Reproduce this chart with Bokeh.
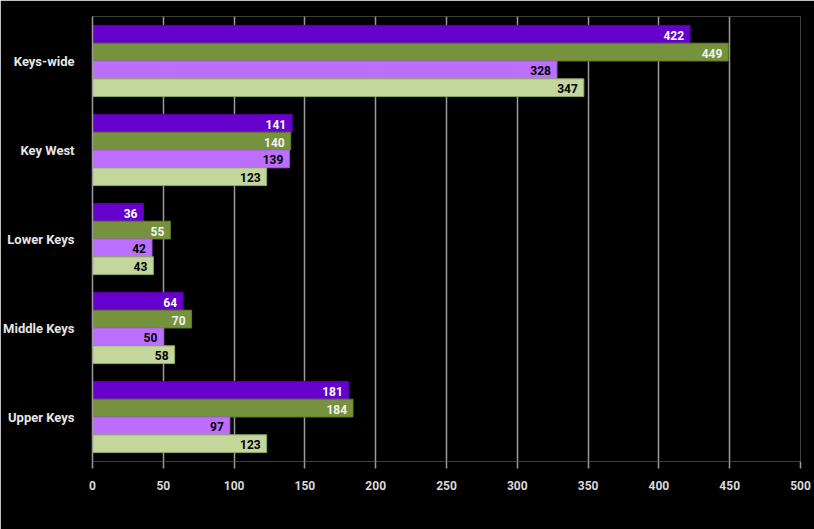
from bokeh.plotting import figure
from bokeh.models import ColumnDataSource, Legend, LegendItem, FixedTicker
from bokeh.transform import dodge
from bokeh.core.properties import value
from bokeh.embed import file_html
from bokeh.resources import INLINE

regions = ["Keys-wide", "Key West", "Lower Keys", "Middle Keys", "Upper Keys"]
series_names = ["2018 Listed", "2019 Listed", "2018 Sales", "2019 Sales"]
listed_2018 = [422, 141, 36, 64, 181]
listed_2019 = [449, 140, 55, 70, 184]
sales_2018 = [328, 139, 42, 50, 97]
sales_2019 = [347, 123, 43, 58, 123]
x_ticks = [0, 50, 100, 150, 200, 250, 300, 350, 400, 450, 500]

colors = ["#6600CC", "#76923C", "#BC6FFF", "#C3D69B"]
outline = ["#5a00b0", "#5f7a2e", "#a55ee0", "#8fa86a"]
label_colors = ["#ffffff", "#f2f2f2", "#000000", "#000000"]
offsets = [0.3, 0.1, -0.1, -0.3]
values_all = [listed_2018, listed_2019, sales_2018, sales_2019]

FONT = "Roboto"

p = figure(width=814, height=529, output_backend="svg", toolbar_location=None,
           y_range=list(reversed(regions)), x_range=(0, 500),
           min_border_left=92, min_border_right=14, min_border_top=16, min_border_bottom=68)
p.background_fill_color = "black"
p.border_fill_color = "black"
p.outline_line_color = None

items = []
for name, vals, c, oc, lc, off in zip(series_names, values_all, colors, outline, label_colors, offsets):
    src = ColumnDataSource(dict(region=regions, val=vals, lab=[str(v) for v in vals]))
    r = p.hbar(y=dodge("region", off, range=p.y_range), right="val", left=0, height=0.2,
               source=src, fill_color=c, line_color=oc, line_width=1)
    p.text(x="val", y=dodge("region", off, range=p.y_range), text="lab", source=src,
           text_align="right", text_baseline="middle", x_offset=-6, y_offset=1,
           text_color=lc, text_font=value(FONT), text_font_size="12px",
           text_font_style="bold")
    items.append(LegendItem(label=name, renderers=[r]))

# grid
p.ygrid.grid_line_color = None
p.xgrid.grid_line_color = "#9a9a9a"
p.xgrid.grid_line_width = 1.5
p.xaxis.ticker = FixedTicker(ticks=x_ticks)

# x axis
xa = p.xaxis[0]
xa.axis_line_color = None
xa.major_tick_line_color = "#9a9a9a"
xa.major_tick_line_width = 1.5
xa.major_tick_out = 7
xa.major_tick_in = 0
xa.minor_tick_line_color = None
xa.major_label_standoff = 12
xa.major_label_text_color = "#d9d9d9"
xa.major_label_text_font = FONT
xa.major_label_text_font_size = "12px"
xa.major_label_text_font_style = "bold"

# y axis
ya = p.yaxis[0]
ya.axis_line_color = "#9a9a9a"
ya.axis_line_width = 1.5
ya.major_tick_line_color = None
ya.minor_tick_line_color = None
ya.major_label_standoff = 12
ya.major_label_text_color = "#e6e6e6"
ya.major_label_text_font = FONT
ya.major_label_text_font_size = "13px"
ya.major_label_text_font_style = "bold"

legend = Legend(items=items, orientation="horizontal", location=(107, -63),
                background_fill_alpha=0, border_line_color=None,
                label_text_color="#d9d9d9", label_text_font=FONT,
                label_text_font_size="14px", label_text_font_style="bold",
                glyph_width=9, glyph_height=11, label_standoff=4, spacing=24,
                padding=0, margin=0, label_height=14)
p.add_layout(legend, "center")

open("out.html", "w").write(file_html(p, INLINE))
